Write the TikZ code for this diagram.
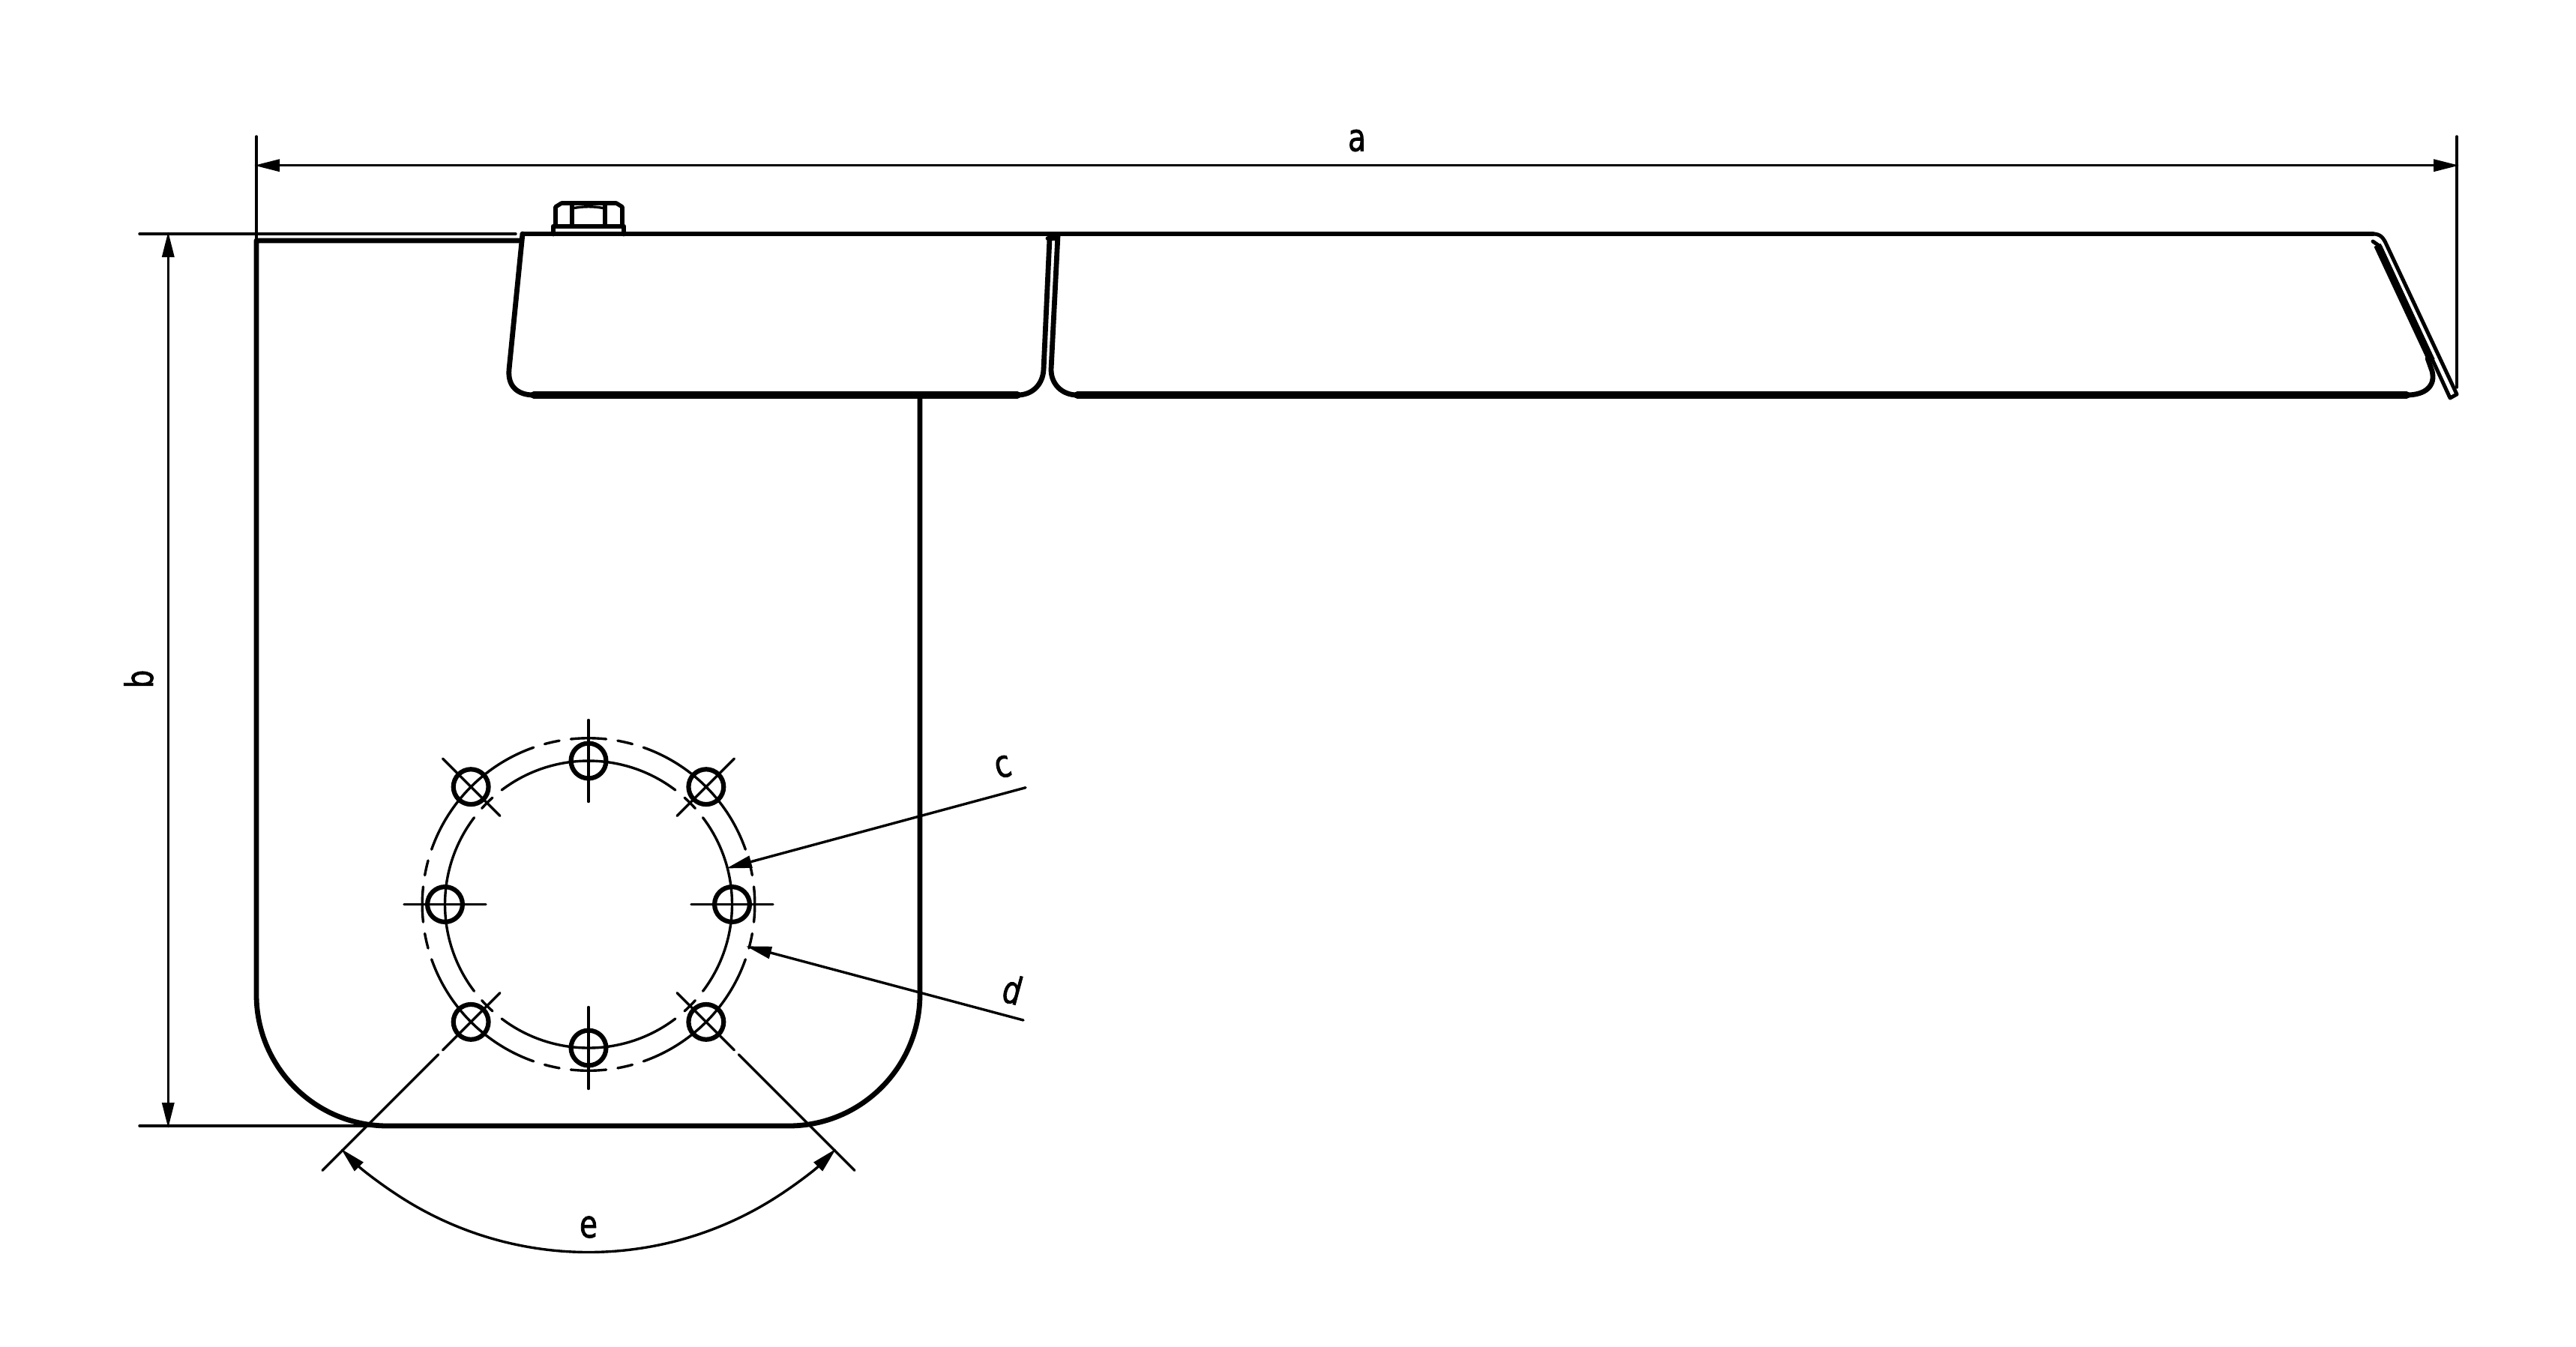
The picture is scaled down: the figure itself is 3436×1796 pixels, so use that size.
\documentclass[tikz,border=0pt]{standalone}
\usepackage{fontspec}
\usetikzlibrary{arrows.meta}
\setmainfont[FakeStretch=0.76,FakeBold=1.5]{DejaVu Sans}
\tikzset{
  x=0.5pt,y=0.5pt,
  thinline/.style={line width=1.7pt,line cap=round,black},
  thickline/.style={line width=3.4pt,line join=round,line cap=round,black},
  heavyline/.style={line width=4.8pt,line cap=round,black},
  holeline/.style={line width=3.1pt,black},
  dimline/.style={thinline,{Triangle[length=17pt,width=8pt,sep=-1.5pt]}-{Triangle[length=17pt,width=8pt,sep=-1.5pt]}},
  leader/.style={thinline,-{Triangle[length=17pt,width=8pt,sep=-1.5pt]}},
  dimtext/.style={font=\fontsize{25.5pt}{26pt}\selectfont,inner sep=0pt,outer sep=0pt}
}
\newcommand{\ringarc}[3]{\draw[thinline] ([shift={(#1:#3)}]C) arc[start angle=#1,end angle=#2,radius=#3];}
\begin{document}
\begin{tikzpicture}
\useasboundingbox (0,0) rectangle (3436,-1796);
\coordinate (C) at (785,-1206.5);
% extension lines
\coordinate (aL) at (342,-220.7);
\coordinate (aR) at (3277,-220.7);
\coordinate (bT) at (224.3,-312);
\coordinate (bB) at (224.3,-1502);
\draw[thinline] (342,-182) -- (342,-321);
\draw[thinline] (3277,-182) -- (3277,-517);
\draw[thinline] (186,-312) -- (688,-312);
\draw[thinline] (186,-1502) -- (500,-1502);
\draw[dimline] (aL) -- (aR);
\draw[dimline] (bT) -- (bB);
\node[dimtext] (la) at (1810,-187.5) {a};
\node[dimtext,rotate=90] (lb) at (185,-906) {b};
% body
\draw[thickline] (695,-321) -- (342,-321) -- (342,-1327) arc[start angle=180,end angle=270,radius=87.5pt] -- (1052,-1502) arc[start angle=270,end angle=360,radius=87.5pt] -- (1227,-527);
% panels
\draw[thickline] (697,-312) -- (3165,-312);
\draw[thickline] (697,-312) -- (679,-493) .. controls (677,-515) and (690,-527) .. (712,-527);
\draw[heavyline] (712,-527) -- (1357,-527);
\draw[thickline] (1357,-527) .. controls (1378,-527) and (1391,-512) .. (1392,-493) -- (1400,-318);
\draw[thickline] (1411,-314) -- (1402,-493) .. controls (1402,-512) and (1416,-527) .. (1437,-527);
\draw[thickline] (1398,-318) -- (1410,-318);
\draw[heavyline] (1437,-527) -- (3210,-527);
\draw[thickline] (3210,-527) .. controls (3235,-527) and (3249,-515) .. (3244,-495) -- (3238,-478);
\draw[heavyline,line width=5pt,line cap=butt] (3171,-327) -- (3243,-481);
% end flap
\draw[thickline,line width=2.5pt] (3165,-312) .. controls (3175,-312) and (3179,-317) .. (3183,-326) -- (3277,-526) -- (3268,-531) -- (3175,-329) -- (3165,-322);
% bolt
\draw[thickline] (738,-312) -- (738,-302) -- (832,-302) -- (832,-312);
\draw[thickline,line width=2.8pt] (741,-300) -- (741,-276) -- (749,-271) -- (822,-271) -- (830,-276) -- (830,-300);
\draw[thickline,line width=2.8pt] (763,-300) -- (763,-274);
\draw[thickline,line width=2.8pt] (807,-300) -- (807,-274);
\draw[thinline] (763,-278) .. controls (778,-275) and (792,-275) .. (807,-278);
% pitch circles, holes and centre lines, one quadrant at a time
\foreach \q in {0,90,180,270}{
  \pgfmathsetmacro{\aS}{\q-37.2}
  \pgfmathsetmacro{\aE}{\q+37.2}
  \ringarc{\aS}{\aE}{95.75pt}
  \pgfmathsetmacro{\bS}{\q-6.1}
  \pgfmathsetmacro{\bE}{\q+6.1}
  \ringarc{\bS}{\bE}{110.9pt}
  \pgfmathsetmacro{\cS}{\q+10.1}
  \pgfmathsetmacro{\cE}{\q+15.3}
  \ringarc{\cS}{\cE}{110.9pt}
  \pgfmathsetmacro{\dS}{\q+74.7}
  \pgfmathsetmacro{\dE}{\q+79.9}
  \ringarc{\dS}{\dE}{110.9pt}
  \pgfmathsetmacro{\eS}{\q+19.3}
  \pgfmathsetmacro{\eE}{\q+70.7}
  \ringarc{\eS}{\eE}{110.9pt}
  \draw[holeline] ([shift={(\q:95.75pt)}]C) circle[radius=11.7pt];
  \draw[thinline] ([shift={(\q:68.5pt)}]C) -- ([shift={(\q:123pt)}]C);
  \pgfmathsetmacro{\qd}{\q+45}
  \draw[holeline] ([shift={(\qd:110.9pt)}]C) circle[radius=11.7pt];
  \pgfmathsetmacro{\tS}{\qd-3}
  \pgfmathsetmacro{\tE}{\qd+3}
  \ringarc{\tS}{\tE}{95.75pt}
  \draw[thinline] ([shift={(\qd:83.5pt)}]C) -- ([shift={(\qd:137.5pt)}]C);
}
% extension lines of angle e
\draw[thinline] ([shift={(225:141.7pt)}]C) -- ([shift={(225:251pt)}]C);
\draw[thinline] ([shift={(315:141.7pt)}]C) -- ([shift={(315:251pt)}]C);
% angle dimension e: the arrow pieces are short so the tips do not distort the arc
\draw[thinline] ([shift={(238:232pt)}]C) arc[start angle=238,end angle=302,radius=232pt];
\draw[leader] ([shift={(238:232pt)}]C) arc[start angle=238,end angle=225,radius=232pt];
\draw[leader] ([shift={(302:232pt)}]C) arc[start angle=302,end angle=315,radius=232pt];
\node[dimtext] (le) at (785,-1637) {e};
% leaders c and d
\coordinate (cS) at (1368,-1050.7);
\coordinate (cT) at (971.7,-1157.7);
\coordinate (dS) at (1365,-1361);
\coordinate (dT) at (998,-1263);
\draw[leader] (cS) -- (cT);
\draw[leader] (dS) -- (dT);
\node[dimtext,rotate=15] (lc) at (1338,-1023) {c};
\node[dimtext,rotate=-15] (ld) at (1350.7,-1320) {d};
\end{tikzpicture}
\end{document}
